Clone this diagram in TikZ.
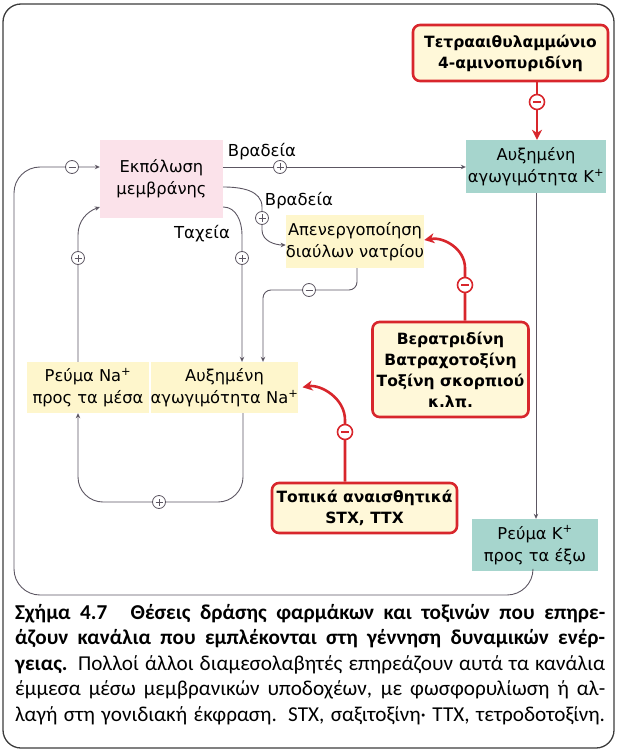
\documentclass[tikz,border=0pt]{standalone}
\usepackage{fontspec}
\setmainfont{DejaVu Sans}
\newfontfamily\capfont{Carlito}
\usetikzlibrary{arrows.meta}
\definecolor{pinkfill}{HTML}{FBE2EA}
\definecolor{tealfill}{HTML}{A6D5CD}
\definecolor{yelfill}{HTML}{FEF6CC}
\definecolor{redboxfill}{HTML}{FFF8D9}
\definecolor{redc}{HTML}{D8262C}
\definecolor{linec}{HTML}{5C5662}
\definecolor{framec}{HTML}{3C3C3C}
\begin{document}
\begin{tikzpicture}[x=1pt,y=1pt,
  txt/.style={font=\fontsize{16.3}{22}\selectfont, align=center, inner sep=0pt},
  pinkbox/.style={txt, fill=pinkfill},
  tealbox/.style={txt, fill=tealfill},
  yelbox/.style={txt, fill=yelfill},
  redbox/.style={txt, font=\fontsize{15.5}{21}\selectfont\bfseries, draw=redc, line width=2.6pt, rounded corners=7pt, fill=redboxfill},
  conn/.style={draw=linec, line width=0.9pt, -{Stealth[length=5pt,width=4.5pt]}},
  redconn/.style={draw=redc, line width=2.6pt, -{Stealth[length=10pt,width=10pt,inset=3pt]}},
  sign/.style={circle, draw=linec, fill=white, line width=0.8pt, minimum size=13pt, inner sep=0pt},
  plus/.style={sign, path picture={\draw[linec,line width=0.9pt] ([xshift=-3.5pt]path picture bounding box.center) -- ([xshift=3.5pt]path picture bounding box.center) ([yshift=-3.5pt]path picture bounding box.center) -- ([yshift=3.5pt]path picture bounding box.center);}},
  minus/.style={sign, path picture={\draw[linec,line width=0.9pt] ([xshift=-3.5pt]path picture bounding box.center) -- ([xshift=3.5pt]path picture bounding box.center);}},
  redminus/.style={circle, draw=redc, fill=white, line width=1.6pt, minimum size=15pt, inner sep=0pt, path picture={\draw[redc,line width=1.4pt] ([xshift=-4pt]path picture bounding box.center) -- ([xshift=4pt]path picture bounding box.center);}},
  lbl/.style={font=\fontsize{16.5}{18}\selectfont, inner sep=0pt}
]
\useasboundingbox (0,0) rectangle (618,-751);
\draw[framec, line width=1.3pt, rounded corners=18pt] (3,-4) rectangle (614,-748);

% boxes
\node[redbox, minimum width=195pt, minimum height=56pt] (tetra) at (510.5,-53) {Τετρααιθυλαμμώνιο\\4-αμινοπυριδίνη};
\node[tealbox, minimum width=140pt, minimum height=53pt] (kc) at (536,-166.5) {Αυξημένη\\αγωγιμότητα K\textsuperscript{+}};
\node[pinkbox, minimum width=123pt, minimum height=78pt] (dep) at (161.5,-179) {Εκπόλωση\\μεμβράνης};
\node[yelbox, minimum width=135pt, minimum height=53pt] (ina) at (355,-241.5) {Απενεργοποίηση\\διαύλων νατρίου};
\node[yelbox, minimum width=143pt, minimum height=51pt] (nacond) at (224.5,-387.5) {Αυξημένη\\αγωγιμότητα Na\textsuperscript{+}};
\node[yelbox, minimum width=122pt, minimum height=51pt] (nacur) at (88,-387.5) {Ρεύμα Na\textsuperscript{+}\\προς τα μέσα};
\node[redbox, minimum width=156pt, minimum height=95pt] (verat) at (450.5,-369.5) {Βερατριδίνη\\Βατραχοτοξίνη\\Τοξίνη σκορπιού\\κ.λπ.};
\node[redbox, minimum width=185pt, minimum height=50pt] (local) at (364.5,-508) {Τοπικά αναισθητικά\\STX, TTX};
\node[tealbox, minimum width=126pt, minimum height=52pt] (kcur) at (535,-545) {Ρεύμα K\textsuperscript{+}\\προς τα έξω};

% labels
\node[lbl] (l1) at (262,-152) {Βραδεία};
\node[lbl] (l2) at (299,-201) {Βραδεία};
\node[lbl] (l3) at (202,-234) {Ταχεία};

% gray connectors
\draw[conn] (dep.east |- 0,-167) -- (kc.west |- 0,-167);
\draw[conn] (dep.east |- 0,-187) to[out=0,in=90] (262,-207) -- (262,-230) to[out=-90,in=180] (ina.west |- 0,-245);
\draw[conn] (dep.east |- 0,-207) to[out=0,in=90] (242,-235) -- (nacond.north -| 242,0);
\draw[conn, rounded corners=8pt] (ina.south -| 357,0) -- (357,-290) -- (263,-290) -- (nacond.north -| 263,0);
\draw[conn] (nacur.north -| 78,0) -- (78,-235) to[out=90,in=200] (dep.west |- 0,-207);
\draw[conn, rounded corners=25pt] (nacond.south -| 243,0) -- (243,-502) -- (78,-502) -- (nacur.south -| 78,0);
\draw[conn] (kc.south) -- (kc.south |- kcur.north);
\draw[conn, rounded corners=26pt] (kcur.south -| 533,0) -- (533,-595) -- (14,-595) -- (14,-167) -- (dep.west |- 0,-167);

% red connectors
\draw[redconn] (tetra.south -| 537,0) -- (kc.north -| 537,0);
\draw[redconn] (verat.north -| 465,0) -- (465,-268) to[out=90,in=10] (ina.east |- 0,-240);
\draw[redconn, shorten >=4pt] (local.north -| 345,0) -- (345,-420) to[out=90,in=10] (nacond.east |- 0,-388);

% signs
\node[plus] (s1) at (280,-167) {};
\node[plus] (s2) at (262,-218) {};
\node[plus] (s3) at (242,-258) {};
\node[plus] (s4) at (78,-258) {};
\node[minus] (s5) at (309,-290) {};
\node[plus] (s6) at (159,-502) {};
\node[minus] (s7) at (72,-167) {};
\node[redminus] (r1) at (537,-102) {};
\node[redminus] (r2) at (465,-285) {};
\node[redminus] (r3) at (345,-432) {};

% caption
\node[anchor=north west, text width=590pt, align=justify, inner sep=0pt, font=\capfont\fontsize{21.2}{25.5}\selectfont] (cap) at (15,-604) {\parfillskip=0pt\hyphenpenalty=10000\tolerance=10000\emergencystretch=20pt
{\bfseries Σχήμα 4.7}\hspace*{1.1em}{\bfseries Θέσεις δράσης φαρμάκων και τοξινών που επηρε-\linebreak άζουν κανάλια που εμπλέκονται στη γέννηση δυναμικών ενέρ-\linebreak γειας.}\hspace*{0.5em}Πολλοί άλλοι διαμεσολαβητές επηρεάζουν αυτά τα κανάλια\linebreak έμμεσα μέσω μεμβρανικών υποδοχέων, με φωσφορυλίωση ή αλ-\linebreak λαγή στη γονιδιακή έκφραση. STX, σαξιτοξίνη· TTX, τετροδοτοξίνη.\par};
\end{tikzpicture}
\end{document}
